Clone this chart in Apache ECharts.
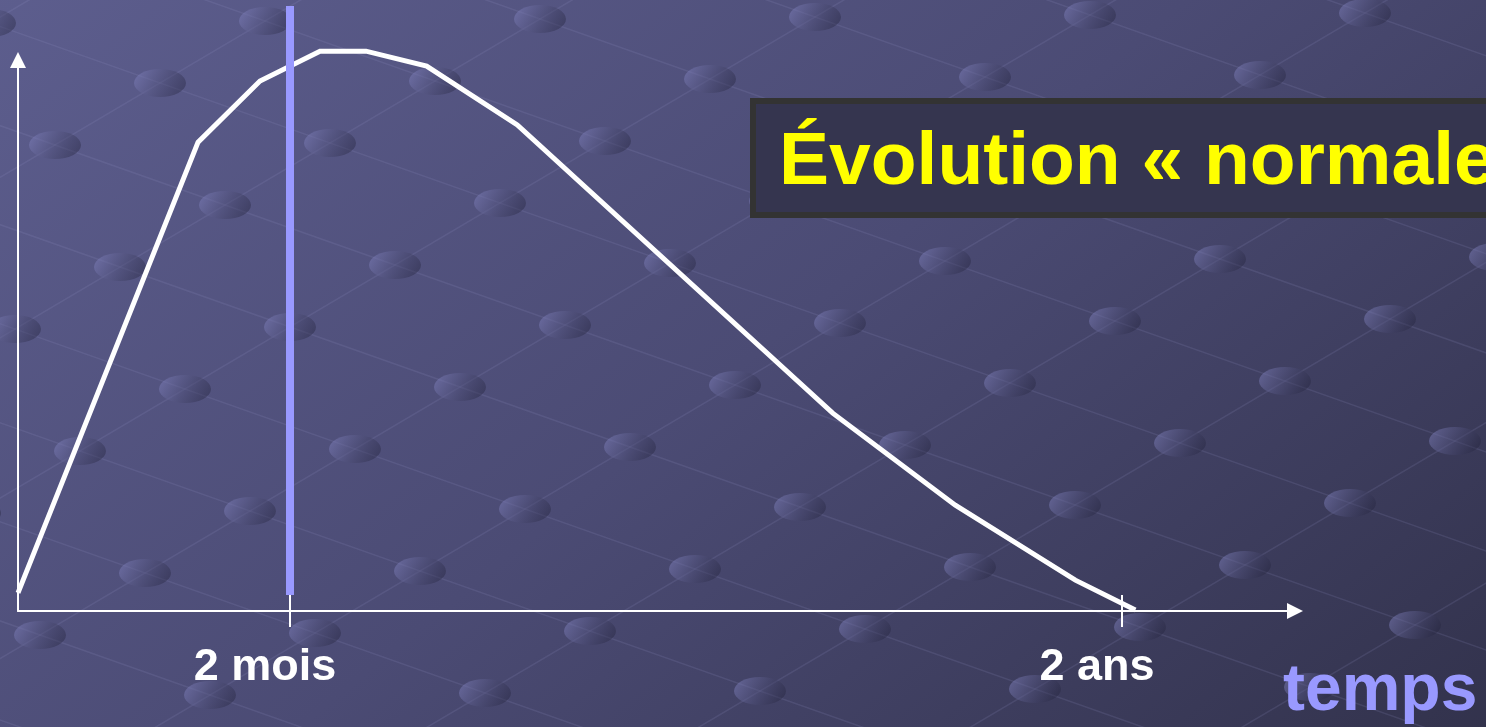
<!DOCTYPE html>
<html>
<head>
<meta charset="utf-8">
<script src="https://cdn.jsdelivr.net/npm/echarts@6/dist/echarts.min.js"></script>
<style>
  html, body { margin: 0; padding: 0; width: 1486px; height: 727px; overflow: hidden; background: #48486e; }
  #bg { position: absolute; left: 0; top: 0; }
  #chart { position: absolute; left: 0; top: 0; width: 1486px; height: 727px; }
</style>
</head>
<body>
<canvas id="bg" width="1486" height="727"></canvas>
<div id="chart"></div>
<script>
// ---- data ----
const curveX = [0, 14.1, 18.95, 23.65, 27.25, 32.0, 39.1, 63.8, 73.4, 82.8, 87.5];
const curveY = [3.3, 85.1, 96.2, 101.6, 101.6, 98.9, 88.2, 35.9, 19.2, 5.6, 0.2];
const tickValues = [21.3, 86.45];
const tickLabels = ['2 mois', '2 ans'];
const markerX = [21.3, 21.3];
const markerY = [2.9, 109.8];
const axisName = 'temps';
const titleText = 'Évolution « normale »';

// ---- decorative background ----
(function () {
  const c = document.getElementById('bg');
  const ctx = c.getContext('2d');
  const W = c.width, H = c.height;
  const g = ctx.createLinearGradient(200, -300, 1286, 1027);
  g.addColorStop(0, '#5f6091');
  g.addColorStop(0.5, '#4b4b74');
  g.addColorStop(1, '#2f2f47');
  ctx.fillStyle = g;
  ctx.fillRect(0, 0, W, H);
  const O = [565, 325], a = [170, 60], b = [-105, 62];
  ctx.strokeStyle = 'rgba(150,150,200,0.16)';
  ctx.lineWidth = 1.5;
  for (let k = -20; k <= 20; k++) {
    ctx.beginPath();
    ctx.moveTo(O[0] + k * b[0] - 20 * a[0], O[1] + k * b[1] - 20 * a[1]);
    ctx.lineTo(O[0] + k * b[0] + 20 * a[0], O[1] + k * b[1] + 20 * a[1]);
    ctx.stroke();
    ctx.beginPath();
    ctx.moveTo(O[0] + k * a[0] - 20 * b[0], O[1] + k * a[1] - 20 * b[1]);
    ctx.lineTo(O[0] + k * a[0] + 20 * b[0], O[1] + k * a[1] + 20 * b[1]);
    ctx.stroke();
  }
  for (let i = -15; i <= 15; i++) {
    for (let j = -15; j <= 15; j++) {
      const x = O[0] + i * a[0] + j * b[0];
      const y = O[1] + i * a[1] + j * b[1];
      if (x < -40 || x > W + 40 || y < -30 || y > H + 30) continue;
      const dg = ctx.createLinearGradient(x - 20, y - 12, x + 20, y + 12);
      dg.addColorStop(0, 'rgba(125,126,185,0.5)');
      dg.addColorStop(1, 'rgba(35,35,60,0.4)');
      ctx.fillStyle = dg;
      ctx.beginPath();
      ctx.ellipse(x, y, 26, 14, 0, 0, Math.PI * 2);
      ctx.fill();
    }
  }
})();

// ---- chart ----
const chart = echarts.init(document.getElementById('chart'), null, { renderer: 'canvas' });
const curveData = curveX.map((x, i) => [x, curveY[i]]);
const markerData = markerX.map((x, i) => [x, markerY[i]]);
const fontFam = '"Liberation Sans", Arial, Helvetica, sans-serif';

chart.setOption({
  backgroundColor: 'transparent',
  animation: false,
  title: {
    text: titleText,
    left: 753,
    top: 101,
    padding: [25, 40, 14, 26],
    backgroundColor: '#35354f',
    borderColor: '#333333',
    borderWidth: 6,
    textStyle: { color: '#ffff00', fontSize: 75, fontWeight: 'bold', fontFamily: fontFam, lineHeight: 75 }
  },
  graphic: [
    {
      type: 'text', left: 1283, top: 659, z: 10,
      style: { text: axisName, fill: '#9999ff', fontSize: 66, fontWeight: 'bold', fontFamily: fontFam }
    }
  ],
  grid: { left: 18, right: 191, top: 60, bottom: 116, containLabel: false },
  xAxis: [
    {
      type: 'value', min: 0, max: 100, position: 'bottom',
      axisLine: { show: true, lineStyle: { color: '#ffffff', width: 2 }, symbol: ['none', 'triangle'], symbolSize: [16, 16] },
      axisTick: { show: true, customValues: tickValues, length: 16, lineStyle: { color: '#ffffff', width: 2 } },
      axisLabel: {
        show: true, customValues: tickValues, margin: 34,
        formatter: v => tickLabels[tickValues.indexOf(v)] || '',
        color: '#ffffff', fontSize: 45, fontWeight: 'bold', fontFamily: fontFam, padding: [0, 50, 0, 0]
      },
      splitLine: { show: false }
    },
    {
      type: 'value', min: 0, max: 100, position: 'bottom',
      axisLine: { show: false },
      axisTick: { show: true, inside: true, customValues: tickValues, length: 16, lineStyle: { color: '#ffffff', width: 2 } },
      axisLabel: { show: false },
      splitLine: { show: false }
    }
  ],
  yAxis: {
    type: 'value', min: 0, max: 100,
    axisLine: { show: true, lineStyle: { color: '#ffffff', width: 2 }, symbol: ['none', 'triangle'], symbolSize: [16, 16] },
    axisTick: { show: false },
    axisLabel: { show: false },
    splitLine: { show: false }
  },
  series: [
    {
      type: 'line', data: curveData, showSymbol: false, clip: false, z: 3,
      lineStyle: { color: '#ffffff', width: 5, join: 'miter' }
    },
    {
      type: 'line', data: markerData, showSymbol: false, clip: false, z: 4,
      lineStyle: { color: '#9999ff', width: 8 }
    }
  ]
});
</script>
</body>
</html>
